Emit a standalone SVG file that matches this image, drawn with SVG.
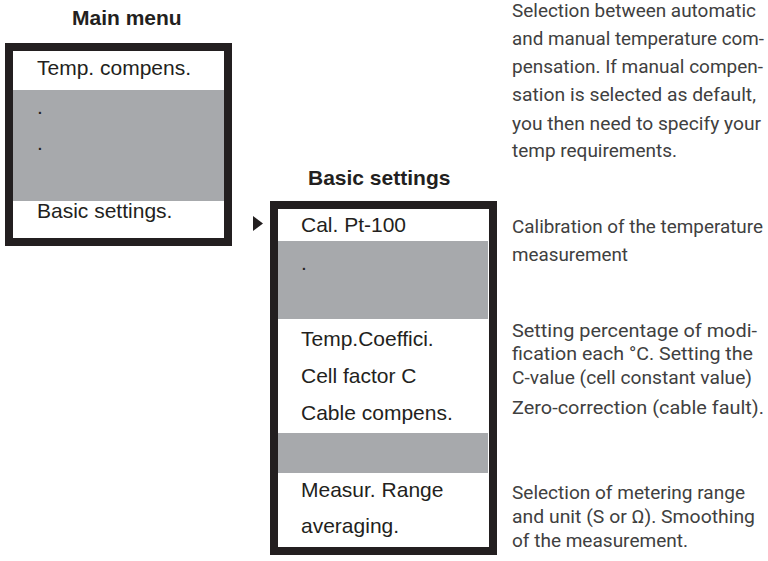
<svg xmlns="http://www.w3.org/2000/svg" width="768" height="561" viewBox="0 0 768 561">
<style>
  .frame { fill: #ffffff; stroke: #231f20; stroke-width: 8; }
  .band { fill: #a7a9ac; }
  .item { font-family: "Liberation Sans", Arial, sans-serif; font-size: 21px; fill: #231f20; }
  .title { font-family: "Liberation Sans", Arial, sans-serif; font-size: 21px; font-weight: bold; fill: #231f20; }
  .note { font-family: "Roboto", "Liberation Sans", sans-serif; font-weight: 400; font-size: 19px; fill: #404040; }
</style>
<rect width="768" height="561" fill="#ffffff"/>

<g id="main-menu">
  <text class="title" x="72" y="25">Main menu</text>
  <rect class="frame" x="9" y="47" width="219" height="195"/>
  <rect class="band" x="13" y="90" width="211" height="111"/>
  <text class="item" x="37" y="75">Temp. compens.</text>
  <text class="item" x="37" y="114">.</text>
  <text class="item" x="37" y="150">.</text>
  <text class="item" x="37" y="218">Basic settings.</text>
</g>

<g id="basic-settings">
  <text class="title" x="308" y="185">Basic settings</text>
  <rect class="frame" x="274" y="205" width="219" height="346"/>
  <rect class="band" x="278" y="241" width="210" height="78"/>
  <rect class="band" x="278" y="433" width="210" height="40"/>
  <text class="item" x="301" y="232">Cal. Pt-100</text>
  <text class="item" x="301" y="270">.</text>
  <text class="item" x="301" y="346">Temp.Coeffici.</text>
  <text class="item" x="301" y="383">Cell factor C</text>
  <text class="item" x="301" y="420">Cable compens.</text>
  <text class="item" x="301" y="497">Measur. Range</text>
  <text class="item" x="301" y="533">averaging.</text>
</g>

<g id="connectors">
  <polygon points="253,216 263,223.5 253,231" fill="#231f20"/>
</g>

<g id="notes">
  <text class="note" x="512" y="17" textLength="244" lengthAdjust="spacingAndGlyphs">Selection between automatic</text>
  <text class="note" x="512" y="45" textLength="252" lengthAdjust="spacingAndGlyphs">and manual temperature com-</text>
  <text class="note" x="512" y="73" textLength="251" lengthAdjust="spacingAndGlyphs">pensation. If manual compen-</text>
  <text class="note" x="512" y="101" textLength="244" lengthAdjust="spacingAndGlyphs">sation is selected as default,</text>
  <text class="note" x="512" y="130" textLength="249" lengthAdjust="spacingAndGlyphs">you then need to specify your</text>
  <text class="note" x="512" y="157" textLength="165" lengthAdjust="spacingAndGlyphs">temp requirements.</text>

  <text class="note" x="512" y="233" textLength="251" lengthAdjust="spacingAndGlyphs">Calibration of the temperature</text>
  <text class="note" x="512" y="261" textLength="116" lengthAdjust="spacingAndGlyphs">measurement</text>

  <text class="note" x="512" y="337" textLength="245" lengthAdjust="spacingAndGlyphs">Setting percentage of modi-</text>
  <text class="note" x="512" y="360" textLength="241" lengthAdjust="spacingAndGlyphs">fication each °C. Setting the</text>
  <text class="note" x="512" y="384" textLength="240" lengthAdjust="spacingAndGlyphs">C-value (cell constant value)</text>
  <text class="note" x="512" y="414" textLength="252" lengthAdjust="spacingAndGlyphs">Zero-correction (cable fault).</text>

  <text class="note" x="512" y="499" textLength="233" lengthAdjust="spacingAndGlyphs">Selection of metering range</text>
  <text class="note" x="512" y="523" textLength="243" lengthAdjust="spacingAndGlyphs">and unit (S or Ω). Smoothing</text>
  <text class="note" x="512" y="547" textLength="176" lengthAdjust="spacingAndGlyphs">of the measurement.</text>
</g>
</svg>
